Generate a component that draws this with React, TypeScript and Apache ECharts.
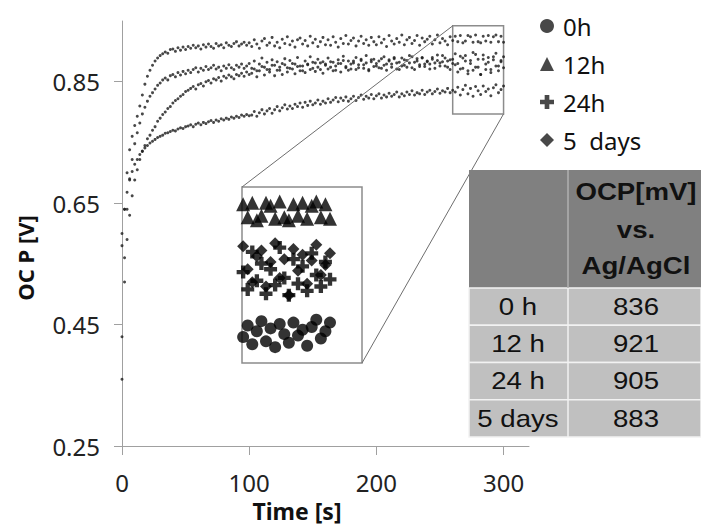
import React, { useEffect, useRef } from 'react';
import * as echarts from 'echarts';

// Sampling step of the recorded OCP curves (seconds)
const STEP_S = 2;

// OCP values in mV, one every STEP_S seconds from t = 0 to t = 300 s
const OCP_0H = [
  600, 640, 668, 688, 702, 714, 722, 730, 736, 741, 745, 749, 752, 755, 758, 760, 762, 765, 766, 768, 770, 769, 772, 774, 773, 776,
  777, 779, 776, 780, 782, 779, 783, 781, 784, 786, 783, 787, 785, 789, 787, 790, 788, 792, 790, 793, 791, 795, 793, 796, 794,
  795, 801, 793, 799, 804, 797, 802, 806, 798, 804,
  809, 802, 807, 812, 805, 810, 806, 813, 809, 815,
  808, 816, 811, 818, 812, 815, 820, 813, 818, 815,
  822, 816, 820, 824, 817, 823, 819, 825, 818, 822,
  826, 819, 824, 828, 821, 826, 823, 829, 822, 827,
  830, 823, 828, 825, 831, 826, 829, 833, 825, 830,
  827, 833, 829, 835, 828, 832, 830, 836, 829, 833,
  836, 830, 834, 838, 831, 835, 833, 839, 832, 836,
  833, 841, 828, 837, 844, 830, 839, 826, 842, 835,
  829, 843, 834, 838, 827, 840, 845, 832, 837, 843,
];

const OCP_12H = [
  580, 640, 700, 738, 760, 778, 793, 810, 828, 846, 859, 869, 877, 884, 889, 893, 896, 899, 897, 903, 904, 900, 906, 902, 907, 903,
  908, 905, 910, 906, 909, 904, 911, 907, 912, 908, 905, 913, 909, 911, 906, 914, 910, 908, 913, 916, 909, 912, 915, 910, 914,
  908, 919, 912, 905, 917, 921, 910, 914, 923, 909,
  915, 906, 920, 913, 924, 911, 917, 907, 919, 922,
  912, 918, 909, 925, 914, 920, 908, 916, 923, 911,
  919, 910, 924, 915, 907, 921, 913, 926, 912, 918,
  922, 909, 917, 925, 913, 919, 910, 923, 916, 911,
  924, 914, 920, 908, 926, 917, 912, 921, 915, 927,
  911, 919, 923, 913, 918, 926, 910, 922, 916, 920,
  925, 912, 919, 927, 914, 921, 917, 911, 924, 918,
  925, 916, 926, 914, 917, 926, 924, 915, 927, 916,
  914, 925, 917, 926, 915, 924, 927, 916, 925, 915,
];

const OCP_24H = [
  430, 560, 640, 690, 722, 748, 766, 782, 797, 808, 818, 826, 832, 838, 844, 848, 853, 856, 853, 860, 862, 858, 865, 861, 867, 863,
  869, 865, 870, 873, 866, 872, 869, 875, 870, 873, 877, 871, 874, 868, 876, 872, 878, 873, 870, 877, 874, 879, 872, 876, 880,
  872, 884, 868, 879, 889, 874, 882, 870, 886, 877,
  883, 869, 880, 888, 873, 885, 871, 879, 890, 876,
  868, 884, 878, 891, 872, 881, 887, 870, 883, 879,
  889, 874, 882, 869, 886, 880, 892, 875, 884, 871,
  881, 890, 873, 885, 878, 893, 870, 883, 887, 876,
  884, 872, 891, 879, 886, 874, 888, 881, 870, 889,
  877, 885, 893, 873, 882, 888, 875, 890, 879, 884,
  871, 887, 881, 894, 876, 883, 889, 874, 886, 880,
  878, 866, 892, 872, 884, 863, 880, 869, 895, 874,
  862, 887, 870, 882, 865, 891, 876, 868, 885, 873,
];

const OCP_5D = [
  360, 520, 590, 630, 662, 688, 705, 722, 735, 745, 756, 762, 770, 776, 785, 790, 796, 800, 806, 809, 815, 819, 822, 826, 829, 834,
  836, 839, 842, 838, 845, 847, 843, 850, 852, 848, 855, 853, 857, 851, 859, 856, 861, 858, 855, 862, 860, 864, 859, 866, 862,
  864, 871, 858, 868, 875, 861, 870, 866, 877, 860,
  869, 874, 862, 878, 866, 872, 880, 863, 875, 868,
  876, 865, 879, 870, 882, 867, 874, 881, 864, 877,
  871, 883, 868, 876, 880, 866, 885, 873, 869, 879,
  884, 870, 878, 887, 872, 881, 868, 886, 875, 880,
  873, 888, 877, 869, 884, 879, 890, 871, 882, 876,
  886, 874, 881, 891, 870, 884, 878, 889, 875, 883,
  879, 890, 872, 885, 881, 893, 876, 884, 870, 887,
  896, 880, 871, 889, 893, 868, 885, 898, 874, 887,
  862, 894, 879, 890, 870, 886, 897, 876, 883, 891,
];

const SERIES_NAMES = ['0h', '12h', '24h', '5 days'];
const SERIES_VALUES = [OCP_0H, OCP_12H, OCP_24H, OCP_5D];

const X_TICKS = [0, 100, 200, 300];
const Y_TICKS = [0.25, 0.45, 0.65, 0.85];

// zoomed window (data coordinates) and the inset's axis ranges
const ZOOM_X = [260, 300];
const ZOOM_Y = [0.797, 0.942];
const INSET_X = [261.5, 314];
const INSET_Y = [0.815, 0.937];

const TABLE_HEADER = ['OCP[mV]', 'vs.', 'Ag/AgCl'];
const TABLE_ROWS = ['0 h', '12 h', '24 h', '5 days'];
const TABLE_VALUES = [836, 921, 905, 883];

const PLUS = 'path://M4,0H8V4H12V8H8V12H4V8H0V4H4Z';
const SYMBOLS = ['circle', 'triangle', PLUS, 'diamond'];
const INSET_SIZES = [12, 14, 13, 12];

const FONT = 'Noto Sans';
const TFONT = 'Liberation Sans';

const toPairs = (arr: number[]) => arr.map((mv, i) => [i * STEP_S, mv / 1000]);

export default function App() {
  const ref = useRef<HTMLDivElement>(null);

  useEffect(() => {
    if (!ref.current) return;
    const chart = echarts.init(ref.current, undefined, { renderer: 'svg' });

    const mainSeries = SERIES_NAMES.map((name, i) => ({
      name,
      type: 'scatter',
      xAxisIndex: 0,
      yAxisIndex: 0,
      symbol: 'circle',
      symbolSize: 3,
      itemStyle: { color: '#1a1a1a' },
      data: toPairs(SERIES_VALUES[i]),
      silent: true,
      ...(i === 0
        ? {
            markArea: {
              silent: true,
              itemStyle: { color: 'rgba(0,0,0,0)', borderColor: '#8c8c8c', borderWidth: 1.5 },
              data: [[{ xAxis: ZOOM_X[0], yAxis: ZOOM_Y[1] }, { xAxis: ZOOM_X[1], yAxis: ZOOM_Y[0] }]],
            },
          }
        : {}),
    }));

    const insetSeries = SERIES_NAMES.map((name, i) => ({
      name,
      type: 'scatter',
      xAxisIndex: 1,
      yAxisIndex: 1,
      symbol: SYMBOLS[i],
      symbolSize: INSET_SIZES[i],
      itemStyle: { color: '#000' },
      clip: true,
      silent: true,
      z: 5,
      data: toPairs(SERIES_VALUES[i]).filter((p) => p[0] >= INSET_X[0]),
    }));

    chart.setOption({
      animation: false,
      backgroundColor: '#fff',
      textStyle: { fontFamily: FONT },
      legend: {
        orient: 'vertical',
        left: 535,
        top: 9,
        itemWidth: 14,
        itemHeight: 14,
        itemGap: 14,
        selectedMode: false,
        data: SERIES_NAMES.map((n, i) => ({ name: n, icon: SYMBOLS[i] })),
        formatter: (n: string) => (n === '5 days' ? '5  days' : n),
        textStyle: { fontFamily: FONT, fontSize: 24, color: '#111', lineHeight: 24, padding: [0, 0, 0, 4] },
      },
      grid: [
        { left: 122, top: 21, width: 407, height: 425, containLabel: false },
        {
          left: 242,
          top: 187,
          width: 120,
          height: 176,
          show: true,
          borderColor: '#8c8c8c',
          borderWidth: 1.5,
          backgroundColor: '#fff',
        },
      ],
      xAxis: [
        {
          type: 'value',
          gridIndex: 0,
          min: 0,
          max: 320,
          axisLine: { show: true, onZero: false, lineStyle: { color: '#a0a0a0', width: 1 } },
          axisTick: { show: true, inside: false, length: 9, customValues: X_TICKS, lineStyle: { color: '#a0a0a0' } },
          axisLabel: { customValues: X_TICKS, fontFamily: FONT, fontSize: 24, color: '#222', margin: 24 },
          splitLine: { show: false },
        },
        { type: 'value', gridIndex: 1, min: INSET_X[0], max: INSET_X[1], show: false, splitLine: { show: false } },
      ],
      yAxis: [
        {
          type: 'value',
          gridIndex: 0,
          min: 0.25,
          max: 0.95,
          axisLine: { show: true, onZero: false, lineStyle: { color: '#a0a0a0', width: 1 } },
          axisTick: { show: true, inside: false, length: 8, customValues: Y_TICKS, lineStyle: { color: '#a0a0a0' } },
          axisLabel: {
            customValues: Y_TICKS,
            formatter: (v: number) => v.toFixed(2),
            fontFamily: FONT,
            fontSize: 24,
            color: '#222',
            margin: 22,
          },
          splitLine: { show: false },
        },
        { type: 'value', gridIndex: 1, min: INSET_Y[0], max: INSET_Y[1], show: false, splitLine: { show: false } },
      ],
      series: [...mainSeries, ...insetSeries],
    });

    const srcTL = chart.convertToPixel({ gridIndex: 0 }, [ZOOM_X[0], ZOOM_Y[1]]) as number[];
    const srcBR = chart.convertToPixel({ gridIndex: 0 }, [ZOOM_X[1], ZOOM_Y[0]]) as number[];
    const insTL = chart.convertToPixel({ gridIndex: 1 }, [INSET_X[0], INSET_Y[1]]) as number[];
    const insBR = chart.convertToPixel({ gridIndex: 1 }, [INSET_X[1], INSET_Y[0]]) as number[];

    const tX = 469;
    const tW = 232;
    const hTop = 170;
    const hH = 118;
    const rowH = 37.25;
    const colX = 568;
    const c1 = 518;
    const c2 = 636;

    const tableEls: any[] = [
      { type: 'rect', shape: { x: tX, y: hTop, width: tW, height: hH }, style: { fill: '#808080' }, z: 10 },
      ...TABLE_ROWS.map((_, i) => ({
        type: 'rect',
        shape: { x: tX, y: hTop + hH + i * rowH, width: tW, height: rowH },
        style: { fill: '#c0c0c0', stroke: '#f2f2f2', lineWidth: 1.5 },
        z: 10,
      })),
      { type: 'line', shape: { x1: colX, y1: hTop, x2: colX, y2: hTop + hH }, style: { stroke: '#b0b0b0', lineWidth: 1.5 }, z: 11 },
      {
        type: 'line',
        shape: { x1: colX, y1: hTop + hH, x2: colX, y2: hTop + hH + 4 * rowH },
        style: { stroke: '#f2f2f2', lineWidth: 1.5 },
        z: 11,
      },
      ...TABLE_HEADER.map((t, i) => ({
        type: 'text',
        x: c2,
        y: [192, 230, 266][i],
        scaleX: 1.15,
        z: 12,
        style: {
          text: t,
          fill: '#111',
          font: `bold 24px "${TFONT}"`,
          textAlign: 'center',
          textVerticalAlign: 'middle',
        },
      })),
      ...TABLE_ROWS.map((t, i) => ({
        type: 'text',
        x: c1,
        y: hTop + hH + i * rowH + rowH / 2,
        scaleX: 1.15,
        z: 12,
        style: { text: t, fill: '#111', font: `24px "${TFONT}"`, textAlign: 'center', textVerticalAlign: 'middle' },
      })),
      ...TABLE_VALUES.map((v, i) => ({
        type: 'text',
        x: c2,
        y: hTop + hH + i * rowH + rowH / 2,
        scaleX: 1.15,
        z: 12,
        style: { text: String(v), fill: '#111', font: `24px "${TFONT}"`, textAlign: 'center', textVerticalAlign: 'middle' },
      })),
    ];

    chart.setOption({
      graphic: [
        {
          type: 'line',
          shape: { x1: srcTL[0], y1: srcTL[1], x2: insTL[0], y2: insTL[1] },
          style: { stroke: '#6e6e6e', lineWidth: 1 },
          z: 4,
        },
        {
          type: 'line',
          shape: { x1: srcBR[0], y1: srcBR[1], x2: insBR[0], y2: insBR[1] },
          style: { stroke: '#6e6e6e', lineWidth: 1 },
          z: 4,
        },
        {
          type: 'text',
          x: 25,
          y: 258,
          rotation: Math.PI / 2,
          style: {
            text: 'OC P [V]',
            fill: '#111',
            font: `bold 22px "${FONT}"`,
            textAlign: 'center',
            textVerticalAlign: 'middle',
          },
        },
        {
          type: 'text',
          x: 297,
          y: 511,
          style: {
            text: 'Time [s]',
            fill: '#111',
            font: `bold 23px "${FONT}"`,
            textAlign: 'center',
            textVerticalAlign: 'middle',
          },
        },
        ...tableEls,
      ],
    });

    return () => chart.dispose();
  }, []);

  return (
    <div
      ref={ref}
      style={{ position: 'absolute', left: 0, top: 0, width: 701, height: 527, background: '#fff' }}
    />
  );
}
